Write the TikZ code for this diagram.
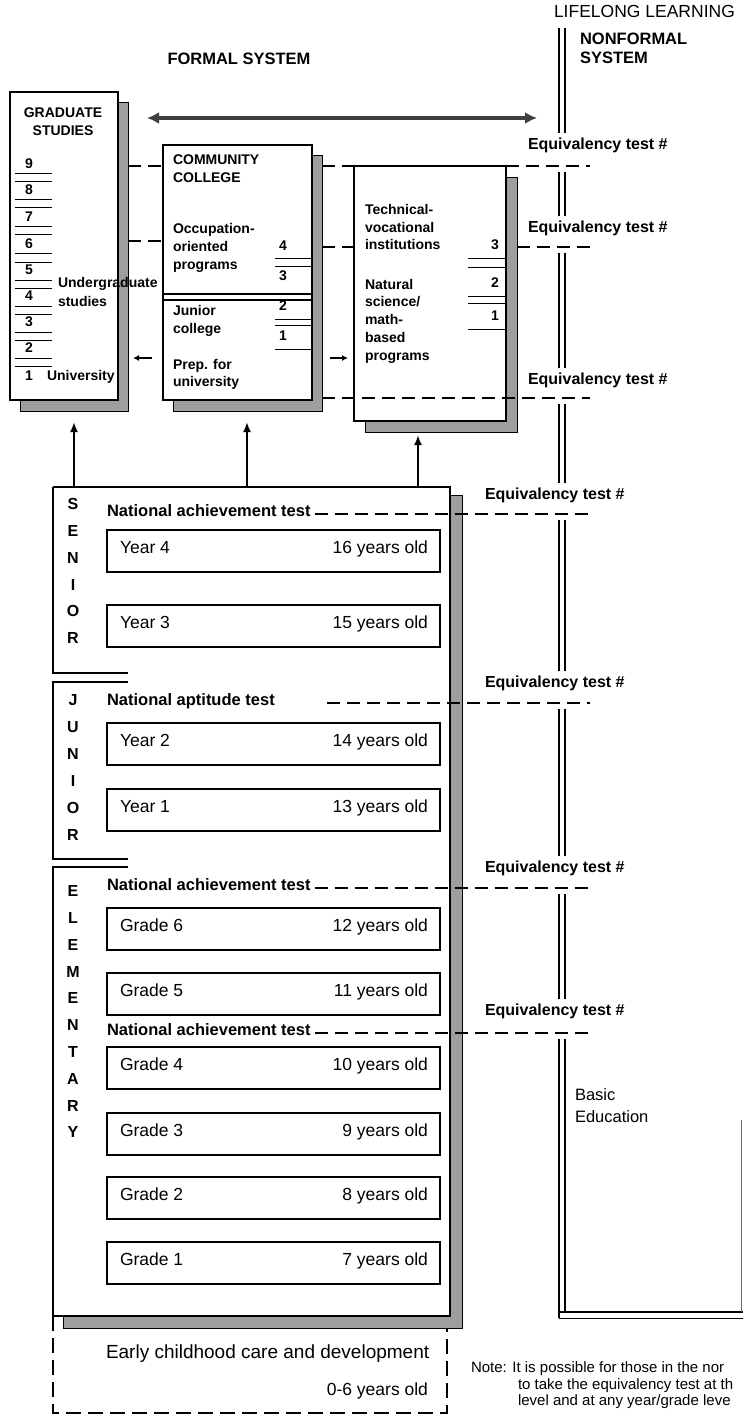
\documentclass[tikz,border=0pt]{standalone}
\usepackage{fontspec}
\setmainfont{Liberation Sans}
\usetikzlibrary{arrows.meta,backgrounds,calc}
\newcommand\fsz[1]{\fontsize{#1}{#1}\selectfont}
\tikzset{
  every node/.style={inner sep=0pt, outer sep=0pt},
  frame/.style={draw=black, line width=1.3pt, fill=white},
  shadowbox/.style={draw=black, line width=0.8pt, fill=black!38},
  hdr/.style={font=\fsz{16.5}\bfseries},
  smalltxt/.style={font=\fsz{14}\bfseries, anchor=mid west},
  numtxt/.style={font=\fsz{14}\bfseries, anchor=mid},
  eqv/.style={font=\fsz{16}\bfseries, anchor=mid west},
  testlbl/.style={font=\fsz{16.5}\bfseries, anchor=mid west},
  letter/.style={font=\fsz{16}\bfseries, anchor=mid},
  yearbox/.style={draw=black, line width=1.2pt, minimum width=333pt, minimum height=42pt, anchor=west},
  yeartxt/.style={font=\fsz{17.5}},
  dashline/.style={line width=1.3pt, dash pattern=on 13pt off 7pt},
  ecdash/.style={line width=1.5pt, dash pattern=on 15pt off 7pt},
  dline/.style={line width=1.2pt},
  numline/.style={line width=1pt},
  uparrow/.style={line width=2pt, -{Latex[length=10pt,width=8pt]}},
  smallarrow/.style={line width=1.5pt, -{Latex[length=6pt,width=6pt]}},
  bigarrow/.style={line width=4pt, draw=black!75, {Latex[length=12pt,width=12pt]}-{Latex[length=12pt,width=12pt]}},
}
\begin{document}
\begin{tikzpicture}[x=1pt,y=-1pt]
\useasboundingbox (0,0) rectangle (743,1415);

% ---------- headings ----------
\node[font=\fsz{17.5}, anchor=mid west] (lifelong) at (554,15) {LIFELONG LEARNING};
\node[hdr, anchor=mid west] (nonformal) at (580,42) {NONFORMAL};
\node[hdr, anchor=mid west] (nfsystem) at (580,61) {SYSTEM};
\node[hdr, anchor=mid] (formal) at (239,62) {FORMAL SYSTEM};

% ---------- upper boxes ----------
\node[frame, minimum width=108pt, minimum height=308pt, anchor=north west] (grad) at (10,92) {};
\node[frame, minimum width=149pt, minimum height=255pt, anchor=north west] (cc) at (163,145) {};
\node[frame, minimum width=152pt, minimum height=255pt, anchor=north west] (tech) at (354,166) {};
\node[fill=white, minimum width=397pt, minimum height=829pt, anchor=north west] (big) at (53,487) {};

\begin{scope}[on background layer]
  \fill[white] (0,0) rectangle (743,1415);
  \draw[shadowbox] ([xshift=10pt,yshift=-10pt]grad.north west) rectangle ([xshift=10pt,yshift=-11pt]grad.south east);
  \draw[shadowbox] ([xshift=10pt,yshift=-10pt]cc.north west) rectangle ([xshift=10pt,yshift=-11pt]cc.south east);
  \draw[shadowbox] ([xshift=11pt,yshift=-11pt]tech.north west) rectangle ([xshift=11pt,yshift=-11pt]tech.south east);
  \draw[shadowbox] ([xshift=10pt,yshift=-8pt]big.north west) rectangle ([xshift=12pt,yshift=-12pt]big.south east);
\end{scope}

% graduate studies
\node[numtxt] (gradt1) at (63,115) {GRADUATE};
\node[numtxt] (gradt2) at (63,133) {STUDIES};
\foreach \n/\yy in {9/166,8/192,7/219,6/246,5/272,4/298,3/324,2/350,1/378}
  {\node[numtxt] (g\n) at (29,\yy) {\n};}
\foreach \yy in {166,192,219,246,272,298,324,350}
  {\draw[numline] (15,\yy+8) -- (52,\yy+8);
   \draw[numline] (15,\yy+16) -- (52,\yy+16);}
\node[smalltxt] (ug1) at (58,285) {Undergraduate};
\node[smalltxt] (ug2) at (58,304) {studies};
\node[smalltxt] (univ) at (47,378) {University};

% community college
\node[smalltxt] (cc1) at (173,162) {COMMUNITY};
\node[smalltxt] (cc2) at (173,180) {COLLEGE};
\node[smalltxt] (cc3) at (173,231) {Occupation-};
\node[smalltxt] (cc4) at (173,249) {oriented};
\node[smalltxt] (cc5) at (173,267) {programs};
\node[smalltxt] (cc6) at (173,313) {Junior};
\node[smalltxt] (cc7) at (173,331) {college};
\node[smalltxt] (cc8) at (173,367) {Prep. for};
\node[smalltxt] (cc9) at (173,384) {university};
\foreach \n/\yy in {4/248,3/278,2/308,1/338}
  {\node[numtxt] (ccn\n) at (283,\yy) {\n};}
\foreach \yy in {259,266,319,325,349}
  {\draw[numline] (275,\yy) -- (cc.east |- 0,\yy);}
\draw[dline] (cc.west |- 0,294) -- (cc.east |- 0,294);
\draw[dline] (cc.west |- 0,300) -- (cc.east |- 0,300);

% technical-vocational
\node[smalltxt] (tv1) at (365,212) {Technical-};
\node[smalltxt] (tv2) at (365,230) {vocational};
\node[smalltxt] (tv3) at (365,247) {institutions};
\node[smalltxt] (tv4) at (365,287) {Natural};
\node[smalltxt] (tv5) at (365,304) {science/};
\node[smalltxt] (tv6) at (365,322) {math-};
\node[smalltxt] (tv7) at (365,340) {based};
\node[smalltxt] (tv8) at (365,358) {programs};
\foreach \n/\yy in {3/247,2/285,1/318}
  {\node[numtxt] (tvn\n) at (495,\yy) {\n};}
\foreach \yy in {259,267,296,303,329}
  {\draw[numline] (468,\yy) -- (tech.east |- 0,\yy);}

% arrows between upper boxes
\coordinate (arrL) at (147,118);
\coordinate (arrR) at (537,118);
\draw[bigarrow] (arrL) -- (arrR);
\draw[smallarrow] ($(cc.west |- 0,358)+(-11,0)$) -- ($(grad.east |- 0,358)+(15,0)$);
\draw[smallarrow] ($(cc.east |- 0,358)+(18,0)$) -- ($(tech.west |- 0,358)+(-6,0)$);

% ---------- nonformal double line ----------
\foreach \ya/\yb in {28/133,172/216,253/368,404/483,520/671,709/856,894/999,1039/1312}
  {\draw[dline] (559,\ya) -- (559,\yb);
   \draw[dline] (565,\ya) -- (565,\yb);}
\draw[dline] (559,1312) -- (559,1318);
\coordinate (nfbr1) at (743,1312);
\coordinate (nfbr2) at (743,1318);
\draw[dline] (559,1312) -- (nfbr1);
\draw[line width=0.9pt] (559,1318) -- (nfbr2);
\draw[line width=0.6pt, black!60] (741.5,1120) -- (741.5,1312);
\node[font=\fsz{16.5}, anchor=mid west] (basic1) at (575,1098) {Basic};
\node[font=\fsz{16.5}, anchor=mid west] (basic2) at (575,1120) {Education};

% equivalency labels
\foreach \i/\xx/\yy in {1/528/147,2/528/230,3/528/382,4/485/497,5/485/685,6/485/870,7/485/1013}
  {\node[eqv] (eq\i) at (\xx,\yy) {Equivalency test \#};}

% upper dashed lines
\coordinate (r1) at (590,166);
\coordinate (r2) at (590,247);
\coordinate (r3) at (590,398);
\draw[dashline] ($(grad.east |- 0,166)+(10,0)$) -- (cc.west |- 0,166);
\draw[dashline] ($(cc.east |- 0,166)+(10,0)$) -- (tech.north west);
\draw[dashline] (tech.north east) -- (r1);
\draw[dashline] ($(grad.east |- 0,241)+(10,0)$) -- (cc.west |- 0,241);
\draw[dashline] ($(cc.east |- 0,247)+(10,0)$) -- (tech.west |- 0,247);
\draw[dashline] ($(tech.east |- 0,247)+(11,0)$) -- (r2);
\draw[dashline] ($(cc.east |- 0,398)+(10,0)$) -- (r3);

% up arrows
\coordinate (up1) at (74,422);
\coordinate (up2) at (247,422);
\coordinate (up3) at (418,435);
\draw[uparrow] (big.north -| up1) -- (up1);
\draw[uparrow] (big.north -| up2) -- (up2);
\draw[uparrow] (big.north -| up3) -- (up3);

% ---------- big box outline ----------
\draw[dline, line width=1.3pt] (big.north west) -- (big.north east) -- (big.south east) -- (big.south west);
\draw[dline, line width=1.3pt] (big.north west) -- (53,673) -- (128,673);
\draw[dline, line width=1.3pt] (128,682) -- (53,682) -- (53,859) -- (128,859);
\draw[dline, line width=1.3pt] (128,867) -- (53,867) -- (big.south west);

% section letters
\foreach \ch [count=\i] in {S,E,N,I,O,R}
  {\node[letter] (sen\i) at (73,{507+(\i-1)*26.8}) {\ch};}
\foreach \ch [count=\i] in {J,U,N,I,O,R}
  {\node[letter] (jun\i) at (73,{703+(\i-1)*27}) {\ch};}
\foreach \ch [count=\i] in {E,L,E,M,E,N,T,A,R,Y}
  {\node[letter] (ele\i) at (73,{894+(\i-1)*26.8}) {\ch};}

% tests
\node[testlbl] (t1) at (107,514) {National achievement test};
\node[testlbl] (t2) at (107,703) {National aptitude test};
\node[testlbl] (t3) at (107,888) {National achievement test};
\node[testlbl] (t4) at (107,1033) {National achievement test};
\coordinate (t1r) at (590,514);
\coordinate (t2r) at (590,703);
\coordinate (t3r) at (590,888);
\coordinate (t4r) at (590,1033);
\draw[dashline] ([xshift=4pt]t1.mid east) -- (t1r);
\draw[dashline] ([xshift=52pt]t2.mid east) -- (t2r);
\draw[dashline] ([xshift=4pt]t3.mid east) -- (t3r);
\draw[dashline] ([xshift=4pt]t4.mid east) -- (t4r);

% year / grade boxes
\foreach \id/\yy/\a/\b in {y4/551/Year 4/16 years old, y3/626/Year 3/15 years old,
    y2/744/Year 2/14 years old, y1/810/Year 1/13 years old,
    g6/929/Grade 6/12 years old, g5/994/Grade 5/11 years old,
    g4/1068/Grade 4/10 years old, g3/1134/Grade 3/9 years old,
    g2/1198/Grade 2/8 years old, g1/1263/Grade 1/7 years old}
  {\node[yearbox] (\id) at (107,\yy) {};
   \node[yeartxt, anchor=mid west] (\id-l) at (120,\yy) {\a};
   \node[yeartxt, anchor=mid east] (\id-r) at (428,\yy) {\b};}

% early childhood
\coordinate (ecbl) at (53,1413);
\coordinate (ecbr) at (447,1413);
\coordinate (ectr) at (447,1328);
\draw[ecdash] (big.south west) -- (ecbl) -- (ecbr) -- (ectr);
\node[font=\fsz{19}, anchor=mid west] (ecc) at (106,1356) {Early childhood care and development};
\node[font=\fsz{17.5}, anchor=mid east] (ecage) at (428,1393) {0-6 years old};

% note
\node[font=\fsz{15}, anchor=mid west] (note1) at (471,1370) {Note: It is possible for those in the nor};
\node[font=\fsz{15}, anchor=mid west] (note2) at (518,1387) {to take the equivalency test at th};
\node[font=\fsz{15}, anchor=mid west] (note3) at (518,1403) {level and at any year/grade leve};
\end{tikzpicture}
\end{document}
